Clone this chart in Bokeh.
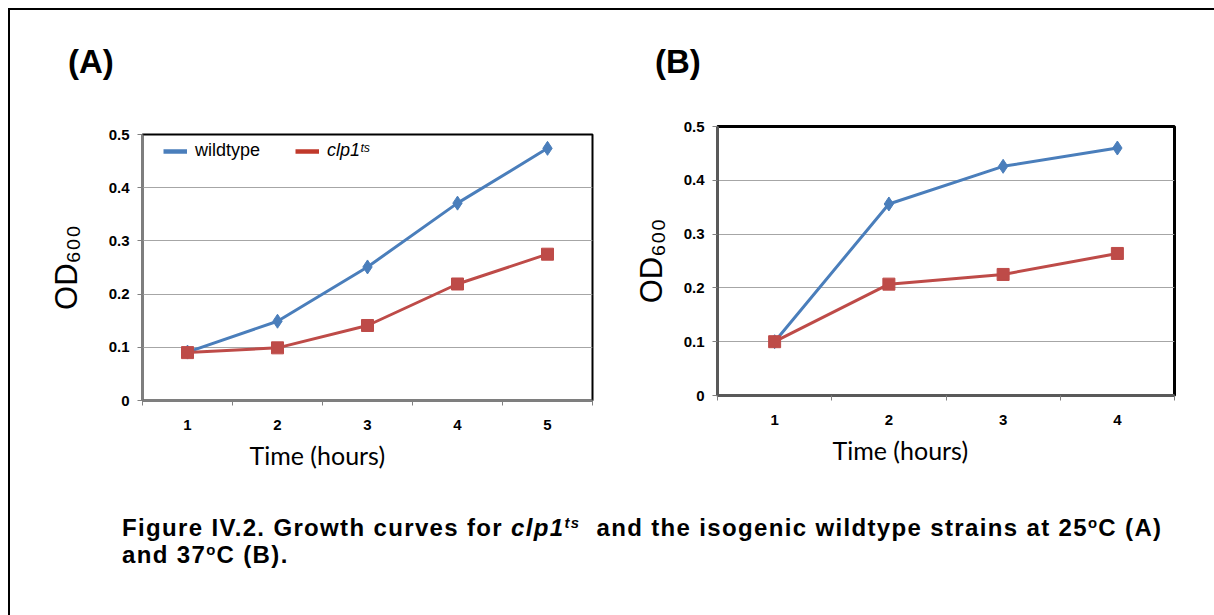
from bokeh.plotting import figure
from bokeh.models import Range1d, FixedTicker, Legend, LegendItem, Title, Div
from bokeh.layouts import column, row
from bokeh.embed import file_html
from bokeh.resources import INLINE

# ---- data ----
hours_a = [1, 2, 3, 4, 5]
wild_a = [0.091, 0.149, 0.251, 0.371, 0.474]
clp_a = [0.090, 0.099, 0.141, 0.219, 0.275]

hours_b = [1, 2, 3, 4]
wild_b = [0.100, 0.356, 0.426, 0.460]
clp_b = [0.100, 0.207, 0.225, 0.264]

y_ticks = [0, 0.1, 0.2, 0.3, 0.4, 0.5]
y_tick_labels = ["0", "0.1", "0.2", "0.3", "0.4", "0.5"]
x_tick_labels_a = ["1", "2", "3", "4", "5"]
x_tick_labels_b = ["1", "2", "3", "4"]

panel_letters = ["(A)", "(B)"]
series_names = ["wildtype", "clp1\u1d57\u02e2"]
x_title = "Time (hours)"
y_title = "OD\u2086\u2080\u2080"

BLUE = "#4A7EBB"
RED = "#BE4B48"
LEGEND_RED = "#C0392B"
TICK_FONT = "Liberation Sans"
NAN = float("nan")


def make_panel(hours, wild, clp, xlabels, fw, fh, bl, bt, br, bb,
               xt_offset, xt_standoff, frame_w, axis_w, axis_col,
               ylab_standoff):
    p = figure(frame_width=fw, frame_height=fh, min_border_left=bl,
               min_border_top=bt, min_border_right=br, min_border_bottom=bb,
               x_range=Range1d(hours[0] - 0.5, hours[-1] + 0.5),
               y_range=Range1d(y_ticks[0], y_ticks[-1]),
               title=None, output_backend="svg", toolbar_location=None)
    p.background_fill_color = "white"
    p.border_fill_color = "white"
    p.outline_line_color = "black"
    p.outline_line_width = frame_w

    # x axis: labels at category centres, tick marks between categories
    bounds = [h - 0.5 for h in hours] + [hours[-1] + 0.5]
    p.xaxis.ticker = FixedTicker(ticks=hours, minor_ticks=bounds)
    p.xaxis.major_label_overrides = {h: l for h, l in zip(hours, xlabels)}
    p.xaxis.major_tick_out = 0
    p.xaxis.major_tick_in = 0
    p.xaxis.minor_tick_out = 5
    p.xaxis.minor_tick_in = 0
    p.xaxis.minor_tick_line_color = "#808080"
    p.xaxis.axis_line_color = axis_col
    p.xaxis.axis_line_width = axis_w
    p.xaxis.major_label_standoff = 14
    p.xaxis.major_label_text_font = TICK_FONT
    p.xaxis.major_label_text_font_style = "bold"
    p.xaxis.major_label_text_font_size = "15px"
    p.xaxis.major_label_text_color = "black"

    # y axis
    p.yaxis.ticker = FixedTicker(ticks=y_ticks, minor_ticks=[])
    p.yaxis.major_label_overrides = {t: l for t, l in zip(y_ticks, y_tick_labels)}
    p.yaxis.major_tick_out = 5
    p.yaxis.major_tick_in = 0
    p.yaxis.major_tick_line_color = "#808080"
    p.yaxis.axis_line_color = axis_col
    p.yaxis.axis_line_width = axis_w
    p.yaxis.major_label_standoff = 8
    p.yaxis.major_label_text_font = TICK_FONT
    p.yaxis.major_label_text_font_style = "bold"
    p.yaxis.major_label_text_font_size = "15px"
    p.yaxis.major_label_text_color = "black"
    p.yaxis.axis_label = y_title
    p.yaxis.axis_label_text_font = "Liberation Sans"
    p.yaxis.axis_label_text_font_style = "normal"
    p.yaxis.axis_label_text_font_size = "31px"
    p.yaxis.axis_label_text_color = "black"
    p.yaxis.axis_label_standoff = ylab_standoff

    p.xgrid.visible = False
    p.ygrid.ticker = FixedTicker(ticks=y_ticks)
    p.ygrid.grid_line_color = "#a6a6a6"
    p.ygrid.grid_line_width = 1.2

    p.line(hours, wild, line_color=BLUE, line_width=3)
    p.scatter(hours, wild, marker="diamond", size=14, fill_color=BLUE,
              line_color=BLUE)
    p.line(hours, clp, line_color=RED, line_width=3)
    p.scatter(hours, clp, marker="square", size=12, fill_color=RED,
              line_color=RED)

    # x axis title, shifted left like the original
    xt = Title(text=x_title, align="left", offset=xt_offset,
               text_font="Lato", text_font_size="25px",
               text_font_style="normal", text_color="black",
               standoff=xt_standoff)
    p.add_layout(xt, "below")
    return p


pa = make_panel(hours_a, wild_a, clp_a, x_tick_labels_a,
                450, 266, 132, 16, 38, 85,
                107, 10, 2, 2, "#7f7f7f", 22)
pb = make_panel(hours_b, wild_b, clp_b, x_tick_labels_b,
                457, 269, 83, 16, 50, 90,
                115, 10, 3, 3, "#595959", 12)
pa.margin = (8, 0, 0, 0)
pb.margin = (0, 0, 0, 0)

# legend in panel A (two blocks so the mutant name can be italic)
leg_wt = pa.line([NAN], [NAN], line_color=BLUE, line_width=4.5)
leg_cl = pa.line([NAN], [NAN], line_color=LEGEND_RED, line_width=4.5)
leg1 = Legend(items=[LegendItem(label=series_names[0], renderers=[leg_wt])],
              location=(21, 239))
leg2 = Legend(items=[LegendItem(label=series_names[1], renderers=[leg_cl])],
              location=(153, 239))
for lg, style in ((leg1, "normal"), (leg2, "italic")):
    lg.padding = 0
    lg.margin = 0
    lg.border_line_color = None
    lg.background_fill_alpha = 0
    lg.glyph_width = 24
    lg.label_standoff = 8
    lg.label_text_font = "Liberation Sans"
    lg.label_text_font_size = "18px"
    lg.label_text_font_style = style
    lg.label_text_color = "black"
    pa.add_layout(lg, "center")

# panel letters
letter_style = {"font-family": "Liberation Sans, Arial, sans-serif",
                "font-size": "33px", "font-weight": "bold",
                "line-height": "36px", "color": "black"}
div_a = Div(text=panel_letters[0], width=562, height=66, styles=letter_style,
            margin=(34, 0, 0, 58))
div_b = Div(text=panel_letters[1], width=500, height=66, styles=letter_style,
            margin=(34, 0, 0, 25))

SUP = '<sup style="font-size:62%;line-height:0;vertical-align:0.55em">'
caption = Div(
    text="<b>Figure IV.2. Growth curves for <i>clp1" + SUP + "ts</sup></i>&nbsp; and the "
         "isogenic wildtype strains at 25" + SUP + "o</sup>C (A)<br>"
         "and 37" + SUP + "o</sup>C (B).</b>",
    width=1150, height=110,
    styles={"font-family": "Liberation Sans, Arial, sans-serif",
            "font-size": "24px", "line-height": "27px", "color": "black",
            "letter-spacing": "1.35px"},
    margin=(29, 0, 0, 112))

root = column(row(div_a, div_b), row(pa, pb), caption,
              styles={"border-left": "2px solid black",
                      "border-top": "2px solid black"},
              margin=(8, 0, 0, 8))

open("out.html", "w").write(file_html(root, INLINE))
